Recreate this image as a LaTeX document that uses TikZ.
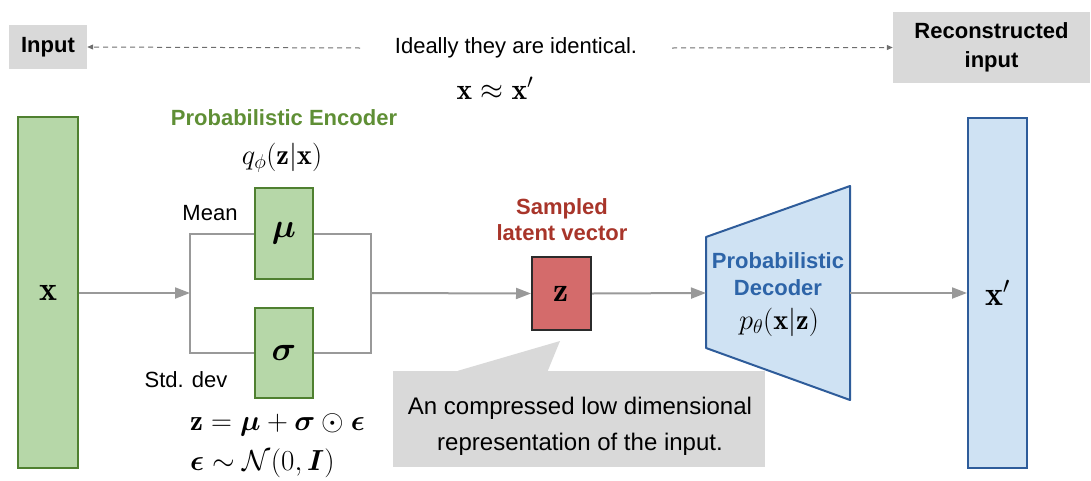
\documentclass[tikz,border=0pt]{standalone}
\usepackage{fix-cm}
\usepackage{amsmath,amssymb,bm}
\usepackage{fontspec}
\newfontfamily\arialf{Liberation Sans}
\usetikzlibrary{arrows.meta}
\definecolor{gfill}{HTML}{B6D7A8}
\definecolor{gline}{HTML}{4F8030}
\definecolor{gtext}{HTML}{5F8F35}
\definecolor{rfill}{HTML}{D46B6B}
\definecolor{rline}{HTML}{2B2B2B}
\definecolor{rtext}{HTML}{A8352A}
\definecolor{bfill}{HTML}{CFE2F3}
\definecolor{bline}{HTML}{2E5C9A}
\definecolor{btext}{HTML}{2D64A8}
\definecolor{boxgray}{HTML}{D9D9D9}
\definecolor{agray}{HTML}{999999}
\definecolor{dgray}{HTML}{6E6E6E}
\begin{document}
\begin{tikzpicture}[x=1pt,y=-1pt,
  lbl/.style={font=\arialf\fontsize{22}{26}\selectfont, inner sep=0pt},
  blbl/.style={font=\arialf\bfseries\fontsize{22}{29}\selectfont, inner sep=0pt, align=center},
  mathl/.style={font=\fontsize{28.5}{32}\selectfont, inner sep=0pt},
  formula/.style={font=\fontsize{29}{32}\selectfont, inner sep=0pt},
  symb/.style={font=\fontsize{34}{38}\selectfont},
  greenbox/.style={draw=gline, fill=gfill, line width=2pt, symb},
  bluebox/.style={draw=bline, fill=bfill, line width=2pt, symb},
  graybox/.style={fill=boxgray, inner sep=0pt, align=center},
  conn/.style={draw=agray, line width=2pt, -{Triangle[length=15pt,width=11pt]}},
  plain/.style={draw=agray, line width=2pt},
  dasharrow/.style={draw=dgray, line width=1pt, dash pattern=on 5pt off 4pt, -{Triangle[length=6pt,width=5pt]}},
]
\useasboundingbox (0,0) rectangle (1091,480);

% top row
\node[graybox, blbl, minimum width=78pt, minimum height=44pt] (inp) at (48,47) {Input};
\node[graybox, blbl, minimum width=197pt, minimum height=71pt] (rec) at (991.5,47.5) {Reconstructed\\input};
\node[lbl] (ideal) at (516,48) {Ideally they are identical.};
\node[font=\fontsize{29.5}{33}\selectfont, inner sep=0pt] (approx) at (495,88) {$\mathbf{x}\approx\mathbf{x}'$};
\coordinate (dl) at (360,48);
\coordinate (dr) at (672,48);
\draw[dasharrow] (dl) -- (inp.east);
\draw[dasharrow] (dr) -- (rec.west);

% input
\node[greenbox, minimum width=60pt, minimum height=351pt] (x) at (48,292.5) {$\mathbf{x}$};

% encoder
\node[blbl, text=gtext] (enclbl) at (284,118) {Probabilistic Encoder};
\node[mathl] (q) at (282,158) {$q_{\phi}(\mathbf{z}|\mathbf{x})$};
\node[greenbox, minimum width=58pt, minimum height=91pt] (mu) at (284,233.5) {$\bm{\mu}$};
\node[greenbox, minimum width=58pt, minimum height=90pt] (sigma) at (284,353) {$\bm{\sigma}$};
\node[lbl] (mean) at (210,213) {Mean};
\node[lbl] (std) at (186,380) {Std. dev};
\node[formula, anchor=west] (f1) at (190,425) {$\mathbf{z}=\bm{\mu}+\bm{\sigma}\odot\bm{\epsilon}$};
\node[formula, anchor=west] (f2) at (190,463) {$\bm{\epsilon}\sim\mathcal{N}(0,\bm{I})$};

\coordinate (sl) at (190,293);
\coordinate (sr) at (371,293);
\draw[conn] (x.east |- sl) -- (sl);
\draw[plain] (mu.west) -| (sl) |- (sigma.west);
\draw[plain] (mu.east) -| (sr) |- (sigma.east);

% latent
\node[draw=rline, fill=rfill, line width=2pt, minimum width=59pt, minimum height=73pt, symb] (z) at (561.5,293.5) {$\mathbf{z}$};
\node[blbl, text=rtext, font=\arialf\bfseries\fontsize{22}{26}\selectfont] (samp) at (562,220) {Sampled\\latent vector};
\draw[conn] (sr) -- (z.west);

% callout
\node[graybox, minimum width=372pt, minimum height=96pt] (call) at (579,419) {};
\coordinate (tip) at (560,341);
\fill[boxgray] ([xshift=65pt]call.north west) -- (tip) -- ([xshift=155pt]call.north west) -- cycle;
\node[lbl, font=\arialf\fontsize{24}{36}\selectfont, align=center] (calltext) at (580,426) {An compressed low dimensional\\representation of the input.};

% decoder
\coordinate (d1) at (706,237);
\coordinate (d2) at (850,186);
\coordinate (d3) at (850,400);
\coordinate (d4) at (706,348);
\coordinate (decL) at (706,293);
\coordinate (decR) at (850,293);
\draw[draw=bline, fill=bfill, line width=2pt, line join=round] (d1) -- (d2) -- (d3) -- (d4) -- cycle;
\node[blbl, text=btext, font=\arialf\bfseries\fontsize{22}{27}\selectfont] (declbl) at (778,274.5) {Probabilistic\\Decoder};
\node[mathl] (p) at (779,322) {$p_{\theta}(\mathbf{x}|\mathbf{z})$};
\draw[conn] (z.east) -- (decL);

% output
\node[bluebox, minimum width=59pt, minimum height=350pt] (xp) at (997.5,293) {$\mathbf{x}'$};
\draw[conn] (decR) -- (xp.west);
\end{tikzpicture}
\end{document}
